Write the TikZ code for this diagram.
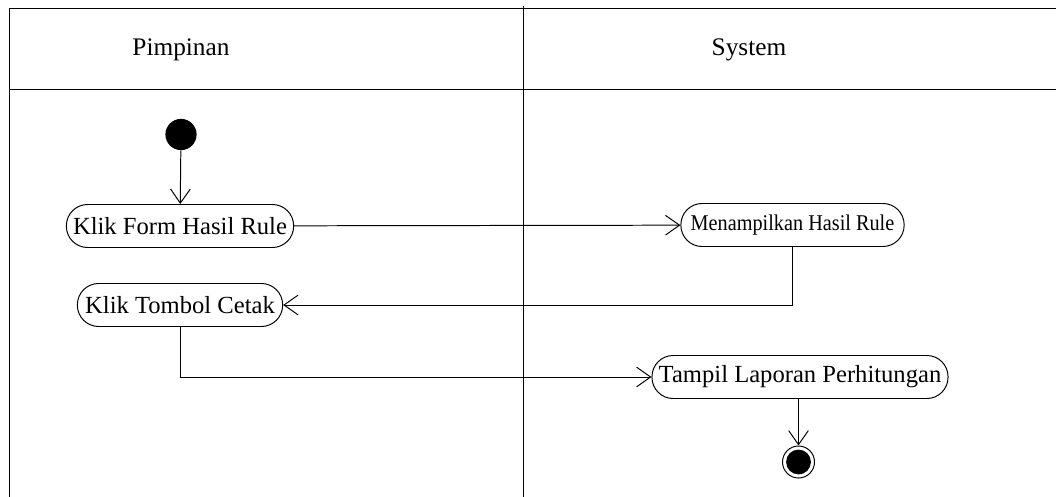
\documentclass[tikz,border=0pt]{standalone}
\usepackage{fontspec}
\setmainfont{Liberation Serif}
\newfontfamily\narrowfont[FakeStretch=0.9]{Liberation Serif}
\usetikzlibrary{arrows.meta}

\tikzset{
  lane/.style   = {line width=1.1pt},
  act/.style    = {draw, line width=0.7pt, rectangle, rounded corners=0.53cm,
                   minimum height=1.075cm, inner xsep=2pt,
                   font=\fontsize{17.5}{19}\selectfont},
  flow/.style   = {line width=0.7pt, -{Straight Barb[length=10pt,width=14pt]}},
  startdot/.style = {circle, fill=black, minimum size=0.78cm, inner sep=0pt},
  enddot/.style = {circle, draw, line width=0.7pt, minimum size=0.8cm, inner sep=0pt,
                   path picture={\fill (path picture bounding box.center) circle (0.31cm);}}
}

\begin{document}
\begin{tikzpicture}[x=0.025cm, y=-0.025cm]
 \useasboundingbox (0,0) rectangle (1056,497);

 % swimlanes
 \draw[lane] (1056,8.5) -- (9.5,8.5) -- (9.5,497);
 \draw[lane] (9.5,89.5) -- (1056,89.5);
 \draw[line width=0.6pt] (523,6) -- (523,497);
 \node(p0) at (181,50) {\fontsize{18}{20}\selectfont Pimpinan};
 \node(s0) at (749,50) {\fontsize{18}{20}\selectfont System};

 % Pimpinan
 \node(h1)[startdot] at (181,134.5) {};
 \node(h2)[act, minimum width=5.68cm] at (180,226) {Klik Form Hasil Rule};
 \node(h3)[act, minimum width=5.13cm] at (180,305) {Klik Tombol Cetak};

 % System
 \node(s1)[act, minimum width=5.58cm, font=\narrowfont\fontsize{16}{18}\selectfont] at (792.5,225) {Menampilkan Hasil Rule};
 \node(s2)[act, minimum width=7.4cm] at (800,377) {Tampil Laporan Perhitungan};
 \node(s3)[enddot] at (798.5,462) {};

 \draw[flow] (h1) -- (h2);
 \draw[flow] (h2) -- (s1);
 \draw[flow] (s1.south) |- (h3.east);
 \draw[flow] (h3.south) |- (s2.west);
 \draw[flow] (s2.south -| s3) -- (s3);
\end{tikzpicture}
\end{document}
